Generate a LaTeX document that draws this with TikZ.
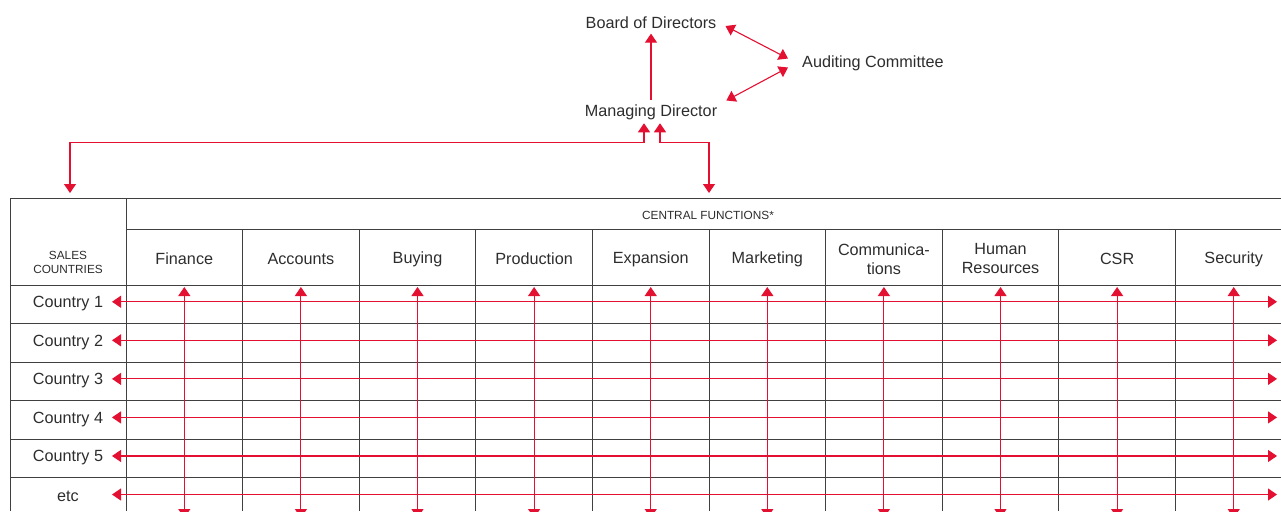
\documentclass[tikz,border=0pt]{standalone}
\usepackage{fontspec}
\setmainfont{Liberation Sans}
\usetikzlibrary{arrows.meta,positioning,calc}
\definecolor{orgred}{RGB}{228,16,50}
\definecolor{txtgray}{RGB}{45,45,45}

\begin{document}
\begin{tikzpicture}[x=1pt, y=-1pt, >={Triangle[width=12pt,length=9pt]}, line cap=butt]
		\tikzstyle{lbl}=[font=\fontsize{16.2}{19}\selectfont, text=txtgray, align=center, inner sep=2pt]
		\tikzstyle{small}=[font=\fontsize{11.8}{16}\selectfont, text=txtgray, align=center]
		\tikzstyle{redline}=[draw=orgred, line width=1.1pt]
		\tikzstyle{grid}=[draw=black!75, line width=0.9pt]
		\clip (0,0) rectangle (1281,511);
		% management
		\node[lbl]    (board)  at (651,22.5)   {Board of Directors};
		\node[lbl]    (md)     at (651,112.5)  {Managing Director};
		\node[lbl, anchor=west]  (audit)  at (800,63.5)  {Auditing Committee};
		\draw[redline,->] ($(md.north)+(0,-3)$) -- ($(board.south)+(0,3)$);
		\draw[redline,<->] ($(board.east)+(7,3.5)$) -- ($(audit.west)+(-12,-5)$);
		\draw[redline,<->] ($(audit.west)+(-12,4)$) -- ($(md.east)+(7,-12)$);
		% links to the table
		\coordinate (mdl) at ($(md.south)+(-7,1)$);
		\coordinate (mdr) at ($(md.south)+(9,1)$);
		\coordinate (salestop) at (70,193);
		\coordinate (centraltop) at (709,193);
		\draw[redline,<->] (mdl) |- ($(mdl)+(0,19)$) -| (salestop);
		\draw[redline,<->] (mdr) |- ($(mdr)+(0,19)$) -| (centraltop);
		% table frame
		\draw[grid] (10,511) -- (10,198.5) -- (1281,198.5);
		\draw[grid] (126,198.5) -- (126,511);
		\draw[grid] (126,229.5) -- (1281,229.5);
		\foreach \k in {1,...,9}
			\draw[grid] ({126+116.6*\k},229.5) -- ({126+116.6*\k},511);
		\foreach \r in {0,...,5}
			\draw[grid] (10,{285+38.55*\r}) -- (1281,{285+38.55*\r});
		\node[small] (central) at (708,215) {CENTRAL FUNCTIONS*};
		\node[small] (sales)   at (68,262)  {SALES\\[-2pt]COUNTRIES};
		% central functions
		\foreach \name [count=\k] in {Finance, Accounts, Buying, Production, Expansion, Marketing, {Communica-\\tions}, {Human\\Resources}, CSR, Security}
		{
			\node[lbl] (fn\k) at ({126+116.6*(\k-0.5)},259) {\name};
			\coordinate (fntop\k) at ({126+116.6*(\k-0.5)},287);
			\coordinate (fnbot\k) at ({126+116.6*(\k-0.5)},518);
			\draw[redline,<->] (fntop\k) -- (fnbot\k);
		}
		% countries
		\foreach \name [count=\i] in {Country 1, Country 2, Country 3, Country 4, Country 5, etc}
		{
			\node[lbl] (cty\i) at (68,{285+38.55*(\i-0.5)-0.5}) {\name};
			\coordinate (ctyl\i) at (112,{285+38.55*(\i-0.5)-2.5});
			\coordinate (ctyr\i) at (1277,{285+38.55*(\i-0.5)-2.5});
			\draw[redline,<->] (ctyl\i) -- (ctyr\i);
		}
\end{tikzpicture}
\end{document}
